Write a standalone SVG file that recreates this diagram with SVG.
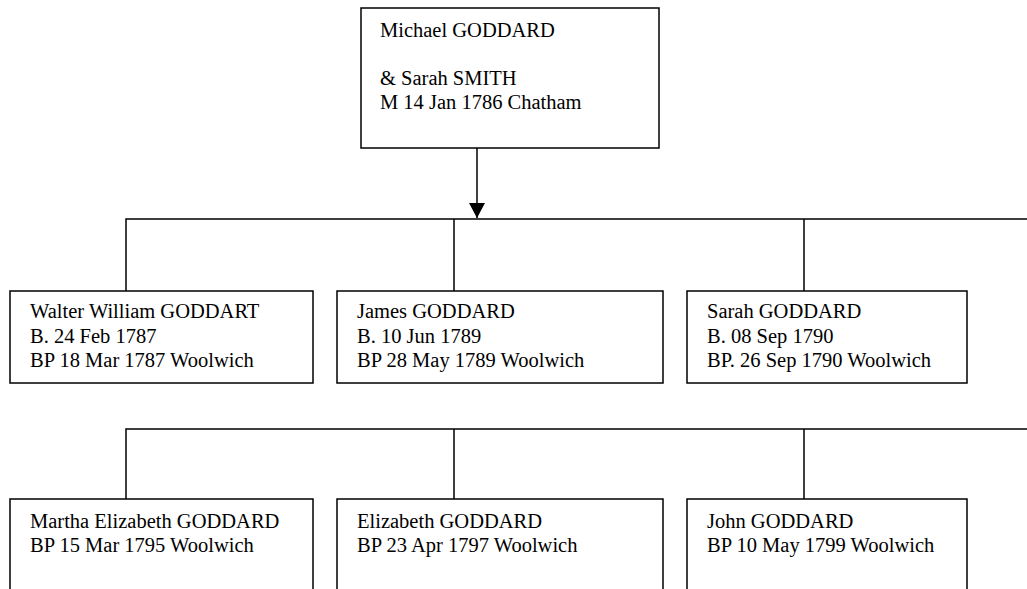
<svg xmlns="http://www.w3.org/2000/svg" width="1027" height="589" viewBox="0 0 1027 589">
<style>
.box{fill:#fff;stroke:#000;stroke-width:1.5}
.ln{fill:none;stroke:#000;stroke-width:1.5}
text{font-family:"Liberation Serif","Times New Roman",serif;font-size:20.5px;fill:#000}
</style>
<defs>
<marker id="arr" markerUnits="userSpaceOnUse" markerWidth="16" markerHeight="16" viewBox="0 0 16 16" refX="15" refY="8" orient="auto">
<path d="M0,0 L15,8 L0,16 Z" fill="#000"/>
</marker>
</defs>
<rect width="1027" height="589" fill="#fff"/>
<g id="connectors">
<line class="ln" x1="477" y1="148" x2="477" y2="218" marker-end="url(#arr)"/>
<path class="ln" d="M1027,219 H126 V291 M454,219 V291 M804,219 V291"/>
<path class="ln" d="M1027,429 H126 V499 M454,429 V499 M804,429 V499"/>
</g>
<g id="parents">
<rect class="box" x="361" y="8" width="298" height="140"/>
<text x="380" y="37">Michael GODDARD</text>
<text x="380" y="85">&amp; Sarah SMITH</text>
<text x="380" y="109">M 14 Jan 1786 Chatham</text>
</g>
<g id="walter">
<rect class="box" x="10" y="291" width="303" height="92"/>
<text x="30" y="318">Walter William GODDART</text>
<text x="30" y="343">B. 24 Feb 1787</text>
<text x="30" y="367">BP 18 Mar 1787 Woolwich</text>
</g>
<g id="james">
<rect class="box" x="337" y="291" width="326" height="92"/>
<text x="357" y="318">James GODDARD</text>
<text x="357" y="343">B. 10 Jun 1789</text>
<text x="357" y="367">BP 28 May 1789 Woolwich</text>
</g>
<g id="sarah">
<rect class="box" x="687" y="291" width="280" height="92"/>
<text x="707" y="318">Sarah GODDARD</text>
<text x="707" y="343">B. 08 Sep 1790</text>
<text x="707" y="367">BP. 26 Sep 1790 Woolwich</text>
</g>
<g id="martha">
<rect class="box" x="10" y="499" width="303" height="100"/>
<text x="30" y="528">Martha Elizabeth GODDARD</text>
<text x="30" y="552">BP 15 Mar 1795 Woolwich</text>
</g>
<g id="elizabeth">
<rect class="box" x="337" y="499" width="326" height="100"/>
<text x="357" y="528">Elizabeth GODDARD</text>
<text x="357" y="552">BP 23 Apr 1797 Woolwich</text>
</g>
<g id="john">
<rect class="box" x="687" y="499" width="280" height="100"/>
<text x="707" y="528">John GODDARD</text>
<text x="707" y="552">BP 10 May 1799 Woolwich</text>
</g>
</svg>
